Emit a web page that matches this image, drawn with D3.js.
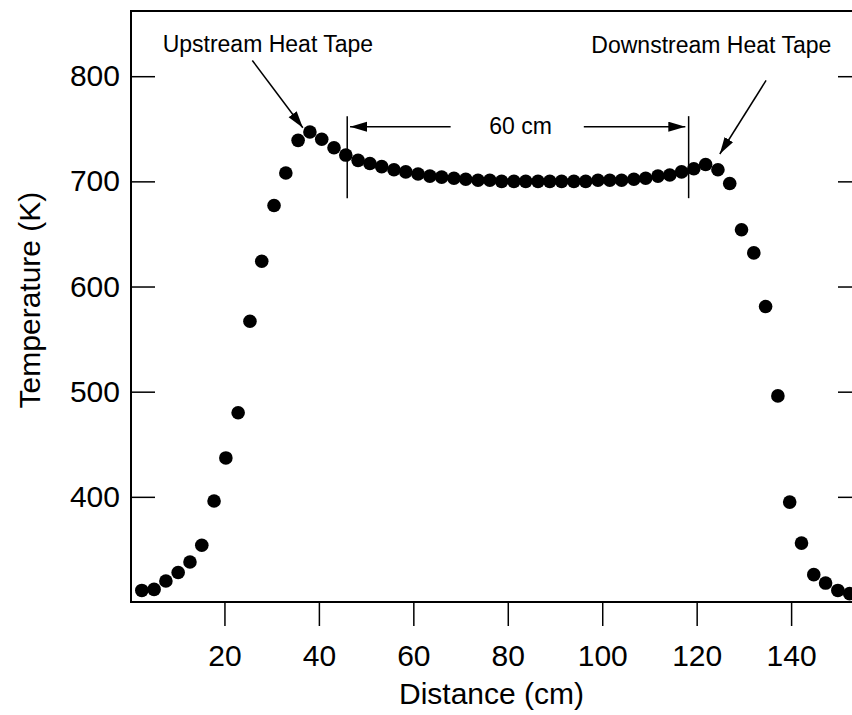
<!DOCTYPE html>
<html>
<head>
<meta charset="utf-8">
<script src="https://cdn.jsdelivr.net/npm/d3@7"></script>
<style>
  body { margin: 0; background: #fff; }
  svg { display: block; font-family: "Liberation Sans", Arial, Helvetica, sans-serif; }
  .axis path.domain { display: none; }
  .axis line { stroke: #000; stroke-width: 1.5; }
  .axis text { fill: #000; font-size: 30px; }
</style>
</head>
<body>
<script>
const width = 852;
const height = 715;

// measured temperature profile along the tube
const distance = [2.5, 5.1, 7.6, 10.2, 12.7, 15.2, 17.8, 20.3, 22.9, 25.4,
  27.9, 30.5, 33.0, 35.6, 38.1, 40.6, 43.2, 45.7, 48.3, 50.8,
  53.3, 55.9, 58.4, 61.0, 63.5, 66.0, 68.6, 71.1, 73.7, 76.2,
  78.7, 81.3, 83.8, 86.4, 88.9, 91.4, 94.0, 96.5, 99.1, 101.6,
  104.1, 106.7, 109.2, 111.8, 114.3, 116.8, 119.4, 121.9, 124.5, 127.0,
  129.5, 132.1, 134.6, 137.2, 139.7, 142.2, 144.8, 147.3, 149.9, 152.4];
const temperature = [311, 312, 320, 328, 338, 354, 396, 437, 480, 567,
  624, 677, 708, 739, 747, 740, 732, 725, 720, 717,
  714, 711, 709, 707, 705, 704, 703, 702, 701, 701,
  700, 700, 700, 700, 700, 700, 700, 700, 701, 701,
  701, 702, 703, 705, 706, 709, 712, 716, 711, 698,
  654, 632, 581, 496, 395, 356, 326, 318, 311, 308];

const xTicks = [20, 40, 60, 80, 100, 120, 140];
const yTicks = [400, 500, 600, 700, 800];

const labels = ["Upstream Heat Tape", "Downstream Heat Tape", "60 cm"];
const xTitle = "Distance (cm)";
const yTitle = "Temperature (K)";

const plot = {left: 131, right: 861, top: 11, bottom: 602};

const x = d3.scaleLinear().domain([0, 154.8]).range([plot.left - 1, plot.right]);
const y = d3.scaleLinear().domain([300, 862]).range([plot.bottom, plot.top]);

const svg = d3.select("body").append("svg")
    .attr("width", width)
    .attr("height", height);

const defs = svg.append("defs");
defs.append("marker")
    .attr("id", "head")
    .attr("markerUnits", "userSpaceOnUse")
    .attr("markerWidth", 18)
    .attr("markerHeight", 11)
    .attr("refX", 17)
    .attr("refY", 5)
    .attr("orient", "auto")
  .append("path")
    .attr("d", "M0,0 L17,5 L0,10 Z")
    .attr("fill", "#000");

// axes
svg.append("g")
    .attr("class", "axis")
    .attr("transform", `translate(0,${plot.bottom})`)
    .call(d3.axisBottom(x).tickValues(xTicks).tickSize(24).tickPadding(19));

svg.append("g")
    .attr("class", "axis")
    .attr("transform", `translate(${plot.left},0)`)
    .call(d3.axisLeft(y).tickValues(yTicks).tickSize(-24).tickPadding(11));

svg.append("g")
    .attr("class", "axis")
    .attr("transform", `translate(${plot.right},0)`)
    .call(d3.axisRight(y).tickValues(yTicks).tickSize(-23).tickFormat(""));

// frame
svg.append("rect")
    .attr("x", plot.left)
    .attr("y", plot.top)
    .attr("width", plot.right - plot.left)
    .attr("height", plot.bottom - plot.top)
    .attr("fill", "none")
    .attr("stroke", "#000")
    .attr("stroke-width", 2);

// axis titles
svg.append("text")
    .attr("x", (plot.left + 852) / 2)
    .attr("y", 704)
    .attr("text-anchor", "middle")
    .attr("font-size", 30)
    .text(xTitle);

svg.append("text")
    .attr("transform", "translate(40,300) rotate(-90)")
    .attr("text-anchor", "middle")
    .attr("font-size", 30)
    .text(yTitle);

// points
svg.append("g").selectAll("circle")
    .data(distance)
  .enter().append("circle")
    .attr("cx", (d) => x(d))
    .attr("cy", (d, i) => y(temperature[i]))
    .attr("r", 6.8)
    .attr("fill", "#000");

// annotations
const ann = svg.append("g").attr("stroke", "#000").attr("stroke-width", 1.5);

[46.0, 118.3].forEach((d) => {
  ann.append("line")
      .attr("x1", x(d)).attr("x2", x(d))
      .attr("y1", y(762)).attr("y2", y(684));
});

ann.append("line")
    .attr("x1", x(67.9)).attr("x2", x(46.6))
    .attr("y1", y(752)).attr("y2", y(752))
    .attr("marker-end", "url(#head)");
ann.append("line")
    .attr("x1", x(96.1)).attr("x2", x(117.6))
    .attr("y1", y(752)).attr("y2", y(752))
    .attr("marker-end", "url(#head)");

ann.append("line")
    .attr("x1", x(25.9)).attr("y1", y(815))
    .attr("x2", x(36.6)).attr("y2", y(751))
    .attr("marker-end", "url(#head)");
ann.append("line")
    .attr("x1", x(134.7)).attr("y1", y(796))
    .attr("x2", x(124.9)).attr("y2", y(726))
    .attr("marker-end", "url(#head)");

svg.append("text")
    .attr("x", x(29.2)).attr("y", y(823))
    .attr("text-anchor", "middle")
    .attr("font-size", 23)
    .text(labels[0]);

svg.append("text")
    .attr("x", x(123.1)).attr("y", y(822))
    .attr("text-anchor", "middle")
    .attr("font-size", 23)
    .text(labels[1]);

svg.append("text")
    .attr("x", x(82.7)).attr("y", y(745))
    .attr("text-anchor", "middle")
    .attr("font-size", 23)
    .text(labels[2]);
</script>
</body>
</html>
